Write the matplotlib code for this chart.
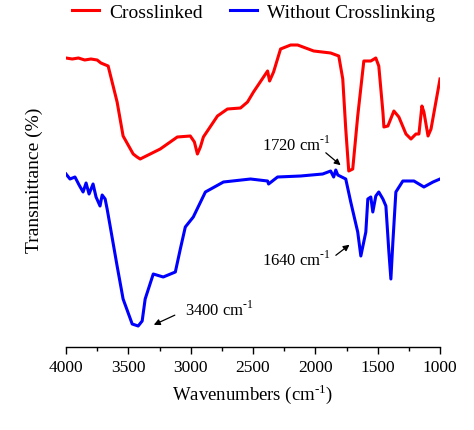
import numpy as np
import matplotlib
matplotlib.use('Agg')
from matplotlib import pyplot as plt
from matplotlib.ticker import MultipleLocator

plt.rcParams['font.family'] = ['Liberation Serif', 'DejaVu Serif']
plt.rcParams['mathtext.fontset'] = 'custom'
plt.rcParams['mathtext.rm'] = 'Liberation Serif'

# crosslinked film (red), arbitrary transmittance units
wn_cross = [4000, 3950, 3900, 3850, 3800, 3750, 3720, 3662, 3590, 3542, 3461, 3430, 3405,
            3244, 3107, 3003, 2970, 2946, 2922, 2898, 2785, 2705, 2600, 2544, 2496, 2383,
            2367, 2335, 2279, 2198, 2142, 2013, 1877, 1812, 1780, 1756, 1732, 1700, 1660,
            1611, 1555, 1515, 1491, 1458, 1450, 1418, 1370, 1330, 1273, 1233, 1193,
            1169, 1145, 1129, 1096, 1072, 1000]
t_cross = [289, 288, 289, 287, 288, 287, 284, 281, 245, 211, 193, 190, 188,
           198, 210, 211, 205, 193, 200, 210, 231, 238, 239, 245, 255, 276,
           266, 275, 298, 302, 302, 296, 294, 291, 268, 218, 176, 178, 231,
           286, 286, 289, 281, 235, 220, 221, 236, 230, 213, 208, 213,
           213, 241, 235, 211, 218, 268]

# without crosslinking (blue)
wn_raw = [4000, 3968, 3928, 3895, 3863, 3839, 3815, 3783, 3759, 3727, 3710, 3686,
          3670, 3646, 3590, 3542, 3469, 3421, 3389, 3365, 3300, 3220, 3123, 3083,
          3043, 2979, 2882, 2737, 2520, 2383, 2375, 2303, 2118, 1941, 1877, 1853,
          1836, 1820, 1756, 1716, 1660, 1635, 1595, 1579, 1555, 1539, 1515, 1491,
          1458, 1434, 1410, 1394, 1378, 1354, 1298, 1209, 1129, 1056, 1000]
t_raw = [173, 168, 170, 162, 155, 164, 153, 163, 150, 141, 152, 148,
         138, 121, 81, 48, 23, 21, 26, 48, 73, 70, 75, 98,
         120, 130, 155, 165, 168, 166, 163, 170, 171, 173, 176, 170,
         177, 172, 168, 145, 115, 91, 115, 148, 150, 135, 151, 155,
         148, 141, 95, 68, 105, 155, 166, 166, 160, 165, 168]

fig = plt.figure(figsize=(4.74, 4.31), dpi=100)
ax = fig.add_axes([66/474, 83/431, 374/474, 308/431])

ax.plot(wn_cross, t_cross, color='#ff0000', lw=2.2, label='Crosslinked')
ax.plot(wn_raw, t_raw, color='#0000ff', lw=2.2, label='Without Crosslinking')

ax.set_xlim(4000, 1000)
ax.set_ylim(0, 308)
for s in ['top', 'right', 'left']:
    ax.spines[s].set_visible(False)
ax.spines['bottom'].set_linewidth(1.0)
ax.set_yticks([])
ax.xaxis.set_major_locator(MultipleLocator(500))
ax.xaxis.set_minor_locator(MultipleLocator(250))
ax.tick_params(axis='x', which='major', length=5, width=1, labelsize=12.5, pad=4)
ax.tick_params(axis='x', which='minor', length=3, width=1)

ax.set_xlabel(r'Wavenumbers (cm$^{\text{-1}}$)', fontsize=13.5, labelpad=4)
ax.set_ylabel('Transmittance (%)', fontsize=14)
ax.yaxis.set_label_coords(-0.061, 0.545)

arrow = dict(arrowstyle='-|>', color='black', lw=0.9, mutation_scale=9)
ax.annotate('', xy=(1780, 180), xytext=(1933, 196), arrowprops=arrow)
ax.text(2424, 203, r'1720 cm$^{\text{-1}}$', fontsize=12, va='center')
ax.annotate('', xy=(1708, 104), xytext=(1853, 90), arrowprops=arrow)
ax.text(2424, 88, r'1640 cm$^{\text{-1}}$', fontsize=12, va='center')
ax.annotate('', xy=(3316, 21), xytext=(3107, 33), arrowprops=arrow)
ax.text(3043, 38, r'3400 cm$^{\text{-1}}$', fontsize=12, va='center')

fig.legend(loc='upper center', bbox_to_anchor=(0.535, 1.03), ncol=2, frameon=False,
           fontsize=14, handlelength=1.4, columnspacing=1.4, handletextpad=0.5)

plt.savefig('out.png', dpi=100)
